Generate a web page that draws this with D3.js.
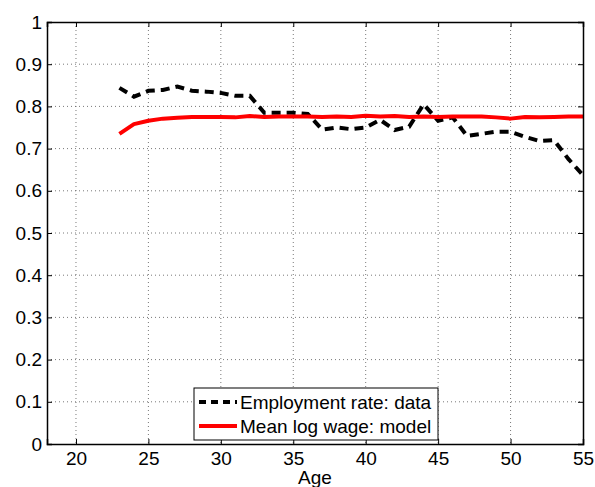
<!DOCTYPE html>
<html>
<head>
<meta charset="utf-8">
<script src="https://cdn.jsdelivr.net/npm/d3@7"></script>
<style>
  body { margin: 0; background: #fff; }
  svg { display: block; font-family: "Liberation Sans", Arial, sans-serif; }
</style>
</head>
<body>
<svg id="chart"></svg>
<script>
let ages = d3.range(23, 56);
let employmentData = [0.844, 0.823, 0.837, 0.839, 0.847, 0.837, 0.835, 0.832, 0.825, 0.825,
  0.785, 0.785, 0.785, 0.782, 0.745, 0.750, 0.746, 0.750, 0.768, 0.744, 0.752, 0.805,
  0.766, 0.774, 0.730, 0.735, 0.740, 0.740, 0.728, 0.718, 0.720, 0.675, 0.637];
let wageModel = [0.735, 0.758, 0.766, 0.771, 0.773, 0.775, 0.775, 0.775, 0.774, 0.777,
  0.775, 0.776, 0.776, 0.776, 0.775, 0.776, 0.775, 0.778, 0.776, 0.777, 0.775, 0.776,
  0.775, 0.776, 0.776, 0.776, 0.774, 0.771, 0.775, 0.774, 0.775, 0.776, 0.776];
let xTicks = [20, 25, 30, 35, 40, 45, 50, 55];
let yTicks = d3.range(0, 11).map(d => d / 10);
let seriesNames = ["Employment rate: data", "Mean log wage: model"];

let width = 595, height = 487;
let padLeft = 47, padRight = 583, padTop = 22, padBottom = 444;

let svg = d3.select("#chart").attr("width", width).attr("height", height);

let x = d3.scaleLinear().domain([18, 55]).range([padLeft, padRight]);
let y = d3.scaleLinear().domain([0, 1]).range([padBottom, padTop]);

// grid
let grid = svg.append("g").attr("stroke", "#555").attr("stroke-width", 0.8)
  .attr("stroke-dasharray", "1,3");
grid.selectAll(".vg").data(xTicks.slice(0, -1)).enter().append("line")
  .attr("x1", d => x(d)).attr("x2", d => x(d)).attr("y1", padTop).attr("y2", padBottom);
grid.selectAll(".hg").data(yTicks.slice(1, -1)).enter().append("line")
  .attr("x1", padLeft).attr("x2", padRight).attr("y1", d => y(d)).attr("y2", d => y(d));

// lines
let seriesLine = d3.line().x((d, i) => x(ages[i])).y(d => y(d));

svg.append("path")
  .datum(employmentData)
  .attr("d", seriesLine)
  .attr("fill", "none")
  .attr("stroke", "#000")
  .attr("stroke-width", 4)
  .attr("stroke-dasharray", "9,6");

svg.append("path")
  .datum(wageModel)
  .attr("d", seriesLine)
  .attr("fill", "none")
  .attr("stroke", "#ff0000")
  .attr("stroke-width", 4)
  .attr("stroke-linejoin", "round");

// axes (ticks inside, box all round)
let fontSize = 19;
let xAxis = d3.axisBottom(x).tickValues(xTicks).tickSize(-5).tickPadding(8).tickFormat(d3.format("d"));
let yAxis = d3.axisLeft(y).tickValues(yTicks).tickSize(-5).tickPadding(5)
  .tickFormat(d => d === 0 ? "0" : d === 1 ? "1" : d3.format(".1f")(d));
let xTop = d3.axisTop(x).tickValues(xTicks).tickSize(-5).tickFormat("");
let yRight = d3.axisRight(y).tickValues(yTicks).tickSize(-5).tickFormat("");

let styleAxis = g => {
  g.select(".domain").attr("stroke", "#000").attr("stroke-width", 1.5);
  g.selectAll(".tick line").attr("stroke", "#000").attr("stroke-width", 1);
  g.selectAll("text").attr("font-size", fontSize).attr("fill", "#000")
    .attr("font-family", "Liberation Sans, Arial, sans-serif");
};

svg.append("g").attr("transform", `translate(0,${padBottom})`).call(xAxis).call(styleAxis);
svg.append("g").attr("transform", `translate(${padLeft},0)`).call(yAxis).call(styleAxis);
svg.append("g").attr("transform", `translate(0,${padTop})`).call(xTop).call(styleAxis);
svg.append("g").attr("transform", `translate(${padRight},0)`).call(yRight).call(styleAxis);

svg.append("text")
  .attr("x", 315).attr("y", 484)
  .attr("text-anchor", "middle")
  .attr("font-size", fontSize)
  .text("Age");

// legend
let legend = svg.append("g").attr("transform", "translate(194,388)");
legend.append("rect").attr("width", 244).attr("height", 52)
  .attr("fill", "#fff").attr("stroke", "#000").attr("stroke-width", 1);
let legendStyles = [
  { stroke: "#000", dash: "7,5" },
  { stroke: "#ff0000", dash: null }
];
seriesNames.forEach((name, i) => {
  let ly = 14 + i * 24;
  legend.append("line")
    .attr("x1", 5).attr("x2", 43).attr("y1", ly).attr("y2", ly)
    .attr("stroke", legendStyles[i].stroke)
    .attr("stroke-width", 4)
    .attr("stroke-dasharray", legendStyles[i].dash);
  legend.append("text")
    .attr("x", 46).attr("y", ly + 7)
    .attr("font-size", fontSize)
    .text(name);
});
</script>
</body>
</html>
